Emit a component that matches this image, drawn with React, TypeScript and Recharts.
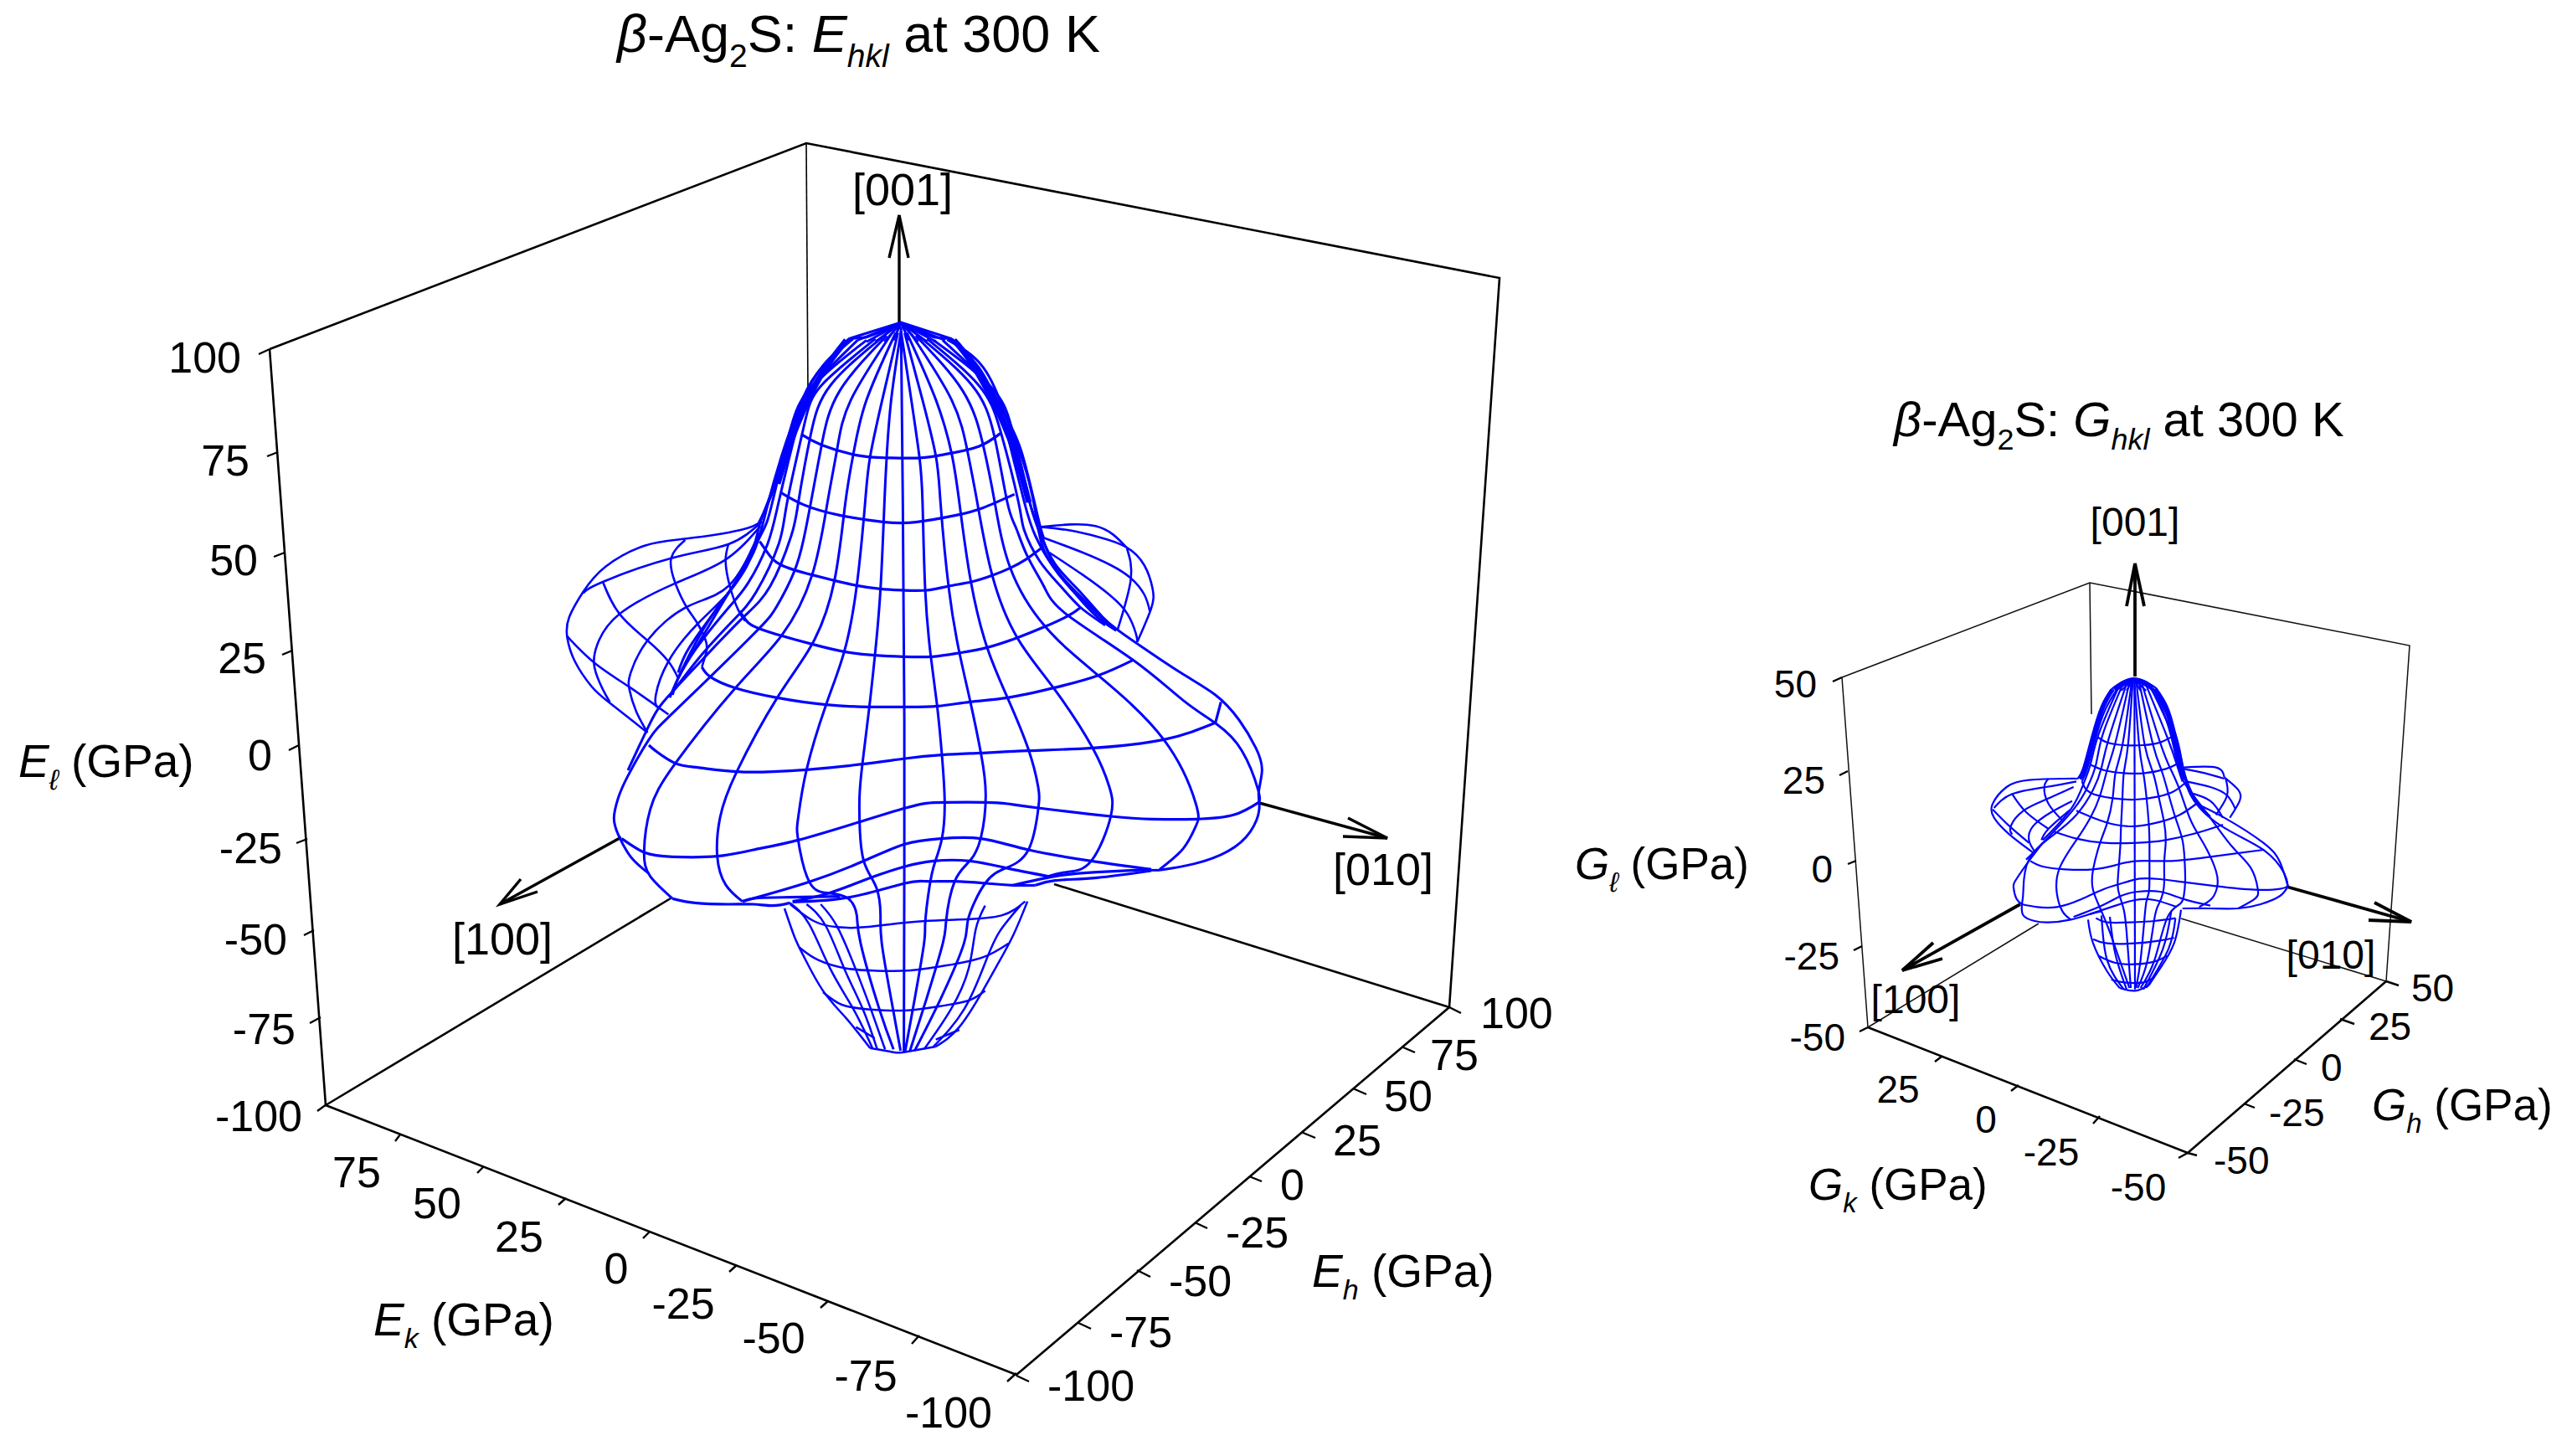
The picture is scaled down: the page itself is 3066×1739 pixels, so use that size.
import React from 'react';
import { ScatterChart, Scatter, XAxis, YAxis } from 'recharts';

type Pair = [number, number];
type Pt = { x: number; y: number };

// Readings are taken from magnified views of the picture; each view has its own origin and scale.
const view = (ox: number, oy: number, sx: number, sy: number) => (pts: Pair[]): Pt[] =>
  pts.map(([a, b]) => ({ x: ox + a / sx, y: oy + b / sy }));
const T = view(660, 360, 1.867, 2.8);
const A = view(670, 600, 3, 3);
const B = view(1060, 600, 3, 3);
const Lo = view(680, 760, 1.782, 3);
const S = view(2340, 780, 3, 3);
const P = view(0, 0, 1, 1);

// ---------- E surface: meridians ----------
const eM0 = [...T([[777, 85], [781, 672]]), ...Lo([[713, 300], [713, 800], [712, 1490]])];
const eMR = [
  [...T([[777, 100], [800, 330], [818, 520], [825, 672]]), ...B([[135, 310], [155, 550], [178, 730], [195, 905], [205, 1075], [195, 1205], [170, 1290], [150, 1380], [135, 1510]]), ...Lo([[755, 1100], [735, 1300], [715, 1485]])],
  [...T([[785, 105], [825, 330], [855, 520], [865, 672]]), ...B([[220, 310], [258, 540], [297, 715], [335, 900], [352, 1050], [335, 1200], [295, 1285], [240, 1360], [210, 1500]]), ...Lo([[795, 1100], [760, 1300], [725, 1485]])],
  [...T([[790, 105], [855, 330], [890, 510], [907, 672]]), ...B([[298, 280], [357, 520], [430, 700], [505, 885], [540, 1020], [540, 1100], [505, 1245], [425, 1310], [350, 1365], [290, 1490]]), ...Lo([[840, 1100], [790, 1300], [735, 1485]])],
  [...T([[800, 110], [890, 330], [925, 500], [947, 672]]), ...B([[375, 260], [465, 485], [595, 665], [735, 880], [795, 1020], [800, 1125], [730, 1285], [640, 1325], [560, 1345]])],
  [...T([[810, 115], [915, 300], [960, 480], [986, 672]]), ...B([[440, 235], [565, 445], [755, 620], [990, 850], [1105, 1080], [1105, 1160], [1060, 1240], [975, 1315]])],
  [...T([[820, 120], [935, 280], [985, 450], [1014, 672]]), ...B([[460, 90], [500, 190], [560, 300], [640, 400], [880, 565], [1060, 710], [1180, 795], [1270, 890], [1328, 1030], [1330, 1075]])],
  [...T([[835, 125], [950, 280], [1000, 440], [1039, 672]]), ...B([[490, 100], [545, 210], [620, 300], [690, 375], [780, 440]])],
  [...T([[850, 130], [965, 270], [1010, 420], [1052, 672]]), ...B([[530, 120], [580, 210], [650, 300], [740, 400], [820, 460]])],
  [...T([[870, 130], [980, 290], [1025, 430], [1064, 672]]), ...B([[550, 120], [600, 220], [680, 310], [770, 410], [815, 450]])],
  [...T([[880, 128], [960, 220], [1010, 380], [1048, 530], [1075, 690]]), ...B([[560, 170], [640, 290], [720, 370], [810, 450]])],
  T([[885, 125], [950, 220], [1005, 370], [1045, 500], [1082, 720], [1095, 790]]),
];
const eML = [
  [...T([[777, 100], [755, 330], [745, 520], [740, 672]]), ...A([[1145, 310], [1125, 548], [1105, 733], [1080, 938], [1070, 1050], [1070, 1145], [1085, 1285], [1130, 1380], [1145, 1480]]), ...Lo([[665, 1100], [685, 1300], [705, 1485]])],
  [...T([[770, 105], [735, 330], [708, 520], [697, 672]]), ...A([[1060, 298], [1015, 535], [950, 725], [880, 958], [850, 1130], [850, 1210], [890, 1360], [960, 1400], [1030, 1420], [1060, 1480]]), ...Lo([[620, 1100], [660, 1337], [690, 1480]])],
  [...T([[765, 105], [700, 330], [672, 500], [653, 672]]), ...A([[980, 280], [900, 508], [775, 700], [630, 965], [570, 1130], [560, 1268], [590, 1370], [650, 1430]])],
  [...T([[755, 110], [665, 330], [635, 490], [613, 672]]), ...A([[900, 260], [790, 478], [625, 665], [410, 935], [320, 1100], [298, 1250], [320, 1340], [400, 1420]])],
  [...T([[745, 115], [640, 300], [600, 480], [576, 672]]), ...A([[870, 130], [835, 250], [775, 370], [710, 452], [535, 625], [385, 770], [315, 850], [240, 980], [205, 1060], [190, 1130], [205, 1190], [250, 1270], [315, 1330]])],
  [...T([[735, 120], [620, 280], [575, 450], [548, 672]]), ...A([[825, 120], [750, 300], [650, 415], [510, 560], [380, 700], [320, 790], [240, 960]])],
  [...T([[720, 125], [600, 280], [560, 420], [523, 672]]), ...A([[780, 150], [700, 320], [620, 420], [505, 545], [400, 680]])],
  [...T([[700, 130], [590, 270], [545, 420], [504, 672]]), ...A([[740, 150], [670, 290], [590, 390], [480, 530], [420, 630]])],
  [...T([[680, 130], [575, 290], [530, 430], [490, 672]]), ...A([[720, 110], [640, 260], [560, 380], [460, 520], [420, 610]])],
  [...T([[670, 125], [590, 240], [545, 370], [510, 520], [478, 690]]), ...A([[690, 180], [610, 310], [520, 460], [430, 610], [400, 690]])],
  [...T([[665, 125], [600, 220], [555, 340], [520, 480], [485, 650], [462, 745]]), ...A([[670, 220], [580, 350], [490, 490], [415, 640], [390, 700]])],
];
const eCap = [
  T([[660, 125], [777, 70], [890, 125]]),
  T([[777, 72], [680, 130]]), T([[777, 72], [700, 135]]), T([[777, 72], [720, 135]]), T([[777, 72], [740, 135]]), T([[777, 72], [760, 130]]),
  T([[777, 72], [795, 130]]), T([[777, 72], [815, 135]]), T([[777, 72], [835, 135]]), T([[777, 72], [855, 135]]), T([[777, 72], [875, 130]]),
  T([[660, 125], [700, 120], [745, 95]]), T([[890, 125], [850, 120], [805, 95]]),
];
const eSilhouette = [
  T([[660, 125], [610, 215], [570, 310], [530, 450], [495, 620], [460, 740]]),
  [...T([[890, 125], [940, 205], [1000, 370], [1040, 520], [1064, 672]]), ...B([[545, 100], [575, 180], [620, 260], [700, 345], [790, 430], [900, 510], [1050, 610], [1175, 690], [1260, 780], [1320, 880], [1342, 960], [1330, 1040], [1332, 1100], [1300, 1180], [1220, 1250], [1100, 1295], [975, 1318]])],
  B([[975, 1318], [945, 1318]]),
];
const eHeavyEdges = [
  T([[655, 130], [612, 215], [576, 310], [536, 450], [502, 610]]),
  T([[895, 130], [936, 210], [994, 370], [1034, 520], [1062, 672]]),
];

// ---------- E surface: parallels ----------
const eParallels = [
  T([[555, 445], [600, 480], [680, 515], [745, 523], [820, 523], [880, 510], [950, 485], [1000, 440]]),
  T([[510, 640], [560, 680], [640, 715], [740, 738], [810, 738], [900, 715], [960, 690], [1030, 645]]),
  [...A([[712, 140], [740, 180], [790, 225], [900, 260], [980, 280], [1060, 298], [1145, 310], [1227, 315], [1310, 315]]), ...B([[220, 300], [300, 285], [375, 262], [440, 235], [495, 205], [550, 165]])],
  [...A([[640, 390], [670, 430], [710, 452], [790, 478], [900, 508], [1015, 535], [1125, 548], [1227, 553], [1330, 553]]), ...B([[255, 540], [357, 520], [465, 485], [565, 445], [650, 405], [690, 378]])],
  [...A([[505, 590], [535, 625], [625, 665], [775, 700], [950, 725], [1105, 733], [1230, 733], [1350, 730]]), ...B([[295, 715], [430, 700], [595, 665], [755, 620], [880, 565]])],
  [...A([[315, 870], [345, 895], [410, 935], [490, 950], [630, 965], [760, 965], [880, 958], [1080, 938], [1232, 918], [1365, 905]]), ...B([[335, 898], [505, 890], [735, 880], [990, 850], [1175, 790]])],
  B([[1175, 790], [1195, 715]]),
  [...A([[218, 1205], [300, 1255], [400, 1270], [560, 1268], [690, 1245], [850, 1210], [1070, 1145], [1235, 1095], [1310, 1078], [1375, 1075]]), ...B([[350, 1075], [430, 1080], [540, 1095], [800, 1125], [950, 1135], [1105, 1135], [1240, 1120], [1330, 1075]])],
  [...A([[650, 1430], [890, 1360], [1085, 1285], [1232, 1225], [1360, 1205]]), ...B([[335, 1205], [505, 1245], [730, 1285], [945, 1315]])],
  [...A([[830, 1430], [960, 1400], [1110, 1345], [1232, 1305], [1335, 1285]]), ...B([[295, 1285], [425, 1310], [575, 1340]])],
  [...A([[830, 1432], [1035, 1415], [1232, 1365], [1310, 1358], [1410, 1358]]), ...B([[350, 1365], [450, 1372], [530, 1372]])],
  A([[400, 1420], [480, 1435], [600, 1440], [690, 1440], [760, 1445], [820, 1435]]),
  A([[650, 1430], [700, 1418], [820, 1415], [1000, 1412]]),
  B([[530, 1372], [600, 1355], [750, 1345], [945, 1320]]),
  B([[450, 1372], [600, 1340], [750, 1325], [945, 1315]]),
];

// ---------- E surface: lobes behind the body ----------
const eBackLobes = [
  A([[715, 70], [640, 100], [450, 130], [300, 155], [160, 230], [80, 320], [30, 410], [22, 480], [50, 570], [110, 660], [170, 715], [310, 825]]),
  A([[720, 70], [600, 150], [395, 200], [150, 285], [80, 325]]),
  A([[715, 85], [590, 205], [410, 290], [210, 400], [130, 510], [120, 590], [150, 670], [175, 715]]),
  A([[710, 110], [600, 300], [450, 375], [310, 495], [250, 610], [245, 670], [270, 750], [310, 825]]),
  A([[700, 150], [620, 300], [490, 435], [385, 570], [340, 690], [345, 735]]),
  A([[445, 135], [395, 200], [410, 290], [450, 375], [490, 435], [520, 500], [520, 540], [505, 590]]),
  A([[600, 150], [590, 210], [605, 300], [635, 385], [660, 425]]),
  A([[150, 285], [210, 400], [310, 495], [385, 570], [420, 630]]),
  A([[22, 480], [120, 575], [250, 665], [385, 760]]),
  B([[550, 88], [745, 85], [855, 160]]),
  B([[550, 88], [650, 100], [760, 125], [855, 160], [920, 225], [950, 310], [945, 380], [895, 500]]),
  B([[555, 125], [700, 180], [800, 225], [870, 270], [920, 330], [940, 390]]),
  B([[580, 180], [700, 260], [800, 335], [860, 400], [890, 470], [895, 500]]),
  B([[858, 165], [872, 275], [825, 455]]),
];

// ---------- E surface: lower bulb ----------
const eBulb = [
  Lo([[458, 975], [480, 1080], [500, 1150], [540, 1270], [590, 1370], [640, 1475]]),
  Lo([[975, 950], [945, 1070], [910, 1180], [880, 1270], [830, 1400], [780, 1470]]),
  Lo([[640, 1475], [690, 1490], [712, 1490], [780, 1470]]),
  Lo([[470, 960], [520, 1020], [570, 1042], [630, 1042], [720, 1025], [830, 1015], [920, 1000], [970, 950]]),
  Lo([[490, 1115], [530, 1160], [590, 1190], [650, 1198], [720, 1198], [800, 1180], [880, 1150], [935, 1100]]),
  Lo([[540, 1275], [580, 1320], [640, 1337], [720, 1340], [790, 1325], [850, 1305], [885, 1270]]),
  Lo([[610, 1400], [650, 1440]]),
  Lo([[780, 1445], [830, 1410]]),
  Lo([[469, 955], [510, 1030], [555, 1190], [605, 1337], [645, 1475]]),
  Lo([[505, 960], [545, 1035], [585, 1190], [625, 1337], [655, 1478]]),
  Lo([[535, 960], [570, 1040], [610, 1195], [642, 1337], [672, 1480]]),
  Lo([[885, 965], [865, 1050], [850, 1190], [812, 1337], [755, 1480]]),
  Lo([[960, 965], [915, 1060], [885, 1170], [840, 1337], [775, 1470]]),
];

// ---------- E frame ----------
const eFrame = [
  P([[322, 417], [963, 171], [1791, 332], [1731, 1203], [1214, 1642], [389, 1320], [322, 417]]),
  P([[389, 1320], [801, 1073]]),
  P([[1259, 1056], [1731, 1203]]),
];
const eBackEdge = [P([[963, 171], [965, 467]])];
const eTicks = [
  [[322, 417], [309, 423]], [[332, 540], [319, 545]], [[340, 660], [327, 665]], [[349, 777], [337, 782]], [[357, 890], [345, 896]], [[367, 1002], [354, 1007]], [[375, 1111], [363, 1117]], [[383, 1215], [370, 1222]], [[390, 1319], [379, 1327]],
  [[478, 1355], [472, 1363]], [[578, 1393], [570, 1401]], [[676, 1431], [667, 1439]], [[776, 1471], [768, 1479]], [[880, 1511], [871, 1519]], [[989, 1554], [980, 1562]], [[1098, 1595], [1089, 1605]], [[1214, 1640], [1203, 1650]],
  [[1731, 1203], [1745, 1210]], [[1676, 1251], [1690, 1257]], [[1616, 1300], [1632, 1307]], [[1554, 1352], [1571, 1359]], [[1492, 1405], [1507, 1411]], [[1427, 1460], [1442, 1467]], [[1358, 1517], [1374, 1525]], [[1288, 1580], [1303, 1587]], [[1214, 1643], [1229, 1650]],
].map((s) => P(s as Pair[]));
const eArrows = [
  P([[1074, 393], [1074, 257]]), P([[1062, 308], [1074, 257], [1085, 308]]),
  P([[742, 1000], [597, 1080]]), P([[622, 1050], [597, 1080], [642, 1065]]),
  P([[1504, 959], [1657, 1001]]), P([[1610, 977], [1657, 1001], [1604, 999]]),
];

// ---------- G surface ----------
const gSurface = [
  S([[545, 130], [625, 90], [705, 125]]),
  S([[625, 92], [560, 135]]), S([[625, 92], [580, 135]]), S([[625, 92], [600, 135]]), S([[625, 92], [650, 135]]), S([[625, 92], [670, 135]]), S([[625, 92], [690, 130]]),
  S([[545, 130], [510, 190], [475, 300], [445, 410], [425, 450]]),
  S([[555, 130], [515, 200], [480, 310], [452, 410], [432, 450]]),
  S([[565, 130], [525, 200], [490, 300], [460, 410], [440, 460]]),
  S([[705, 125], [745, 190], [775, 290], [800, 410], [810, 450], [850, 540]]),
  S([[695, 128], [735, 200], [768, 300], [792, 410], [805, 455]]),
  S([[685, 125], [725, 195], [760, 300], [785, 410], [800, 460]]),
  S([[628, 95], [630, 1205]]),
  S([[495, 300], [530, 320], [590, 330], [660, 330], [720, 320], [770, 295]]),
  S([[470, 400], [520, 420], [590, 430], [665, 430], [740, 415], [785, 395]]),
  S([[440, 460], [470, 500], [550, 520], [630, 525], [710, 515], [770, 495], [810, 465]]),
  S([[420, 565], [480, 590], [560, 615], [640, 620], [720, 605], [790, 580], [850, 540]]),
  S([[340, 640], [420, 665], [520, 680], [640, 680], [740, 670], [850, 645], [945, 615]]),
  S([[255, 745], [300, 765], [380, 775], [480, 775], [560, 760], [640, 745], [760, 745], [900, 730], [1090, 705]]),
  S([[225, 900], [280, 910], [350, 910], [430, 885], [520, 845], [600, 820], [650, 808], [720, 810], [800, 820], [920, 835], [1060, 848], [1150, 845], [1178, 835]]),
  S([[410, 945], [510, 905], [580, 870], [640, 855], [720, 855], [800, 880], [900, 905]]),
  S([[470, 935], [560, 905], [630, 885], [700, 885], [780, 910]]),
  S([[225, 900], [230, 940], [270, 960], [320, 965], [400, 955], [470, 935], [510, 925]]),
  S([[1178, 835], [1150, 870], [1080, 900], [1000, 915], [900, 915], [800, 915]]),
  S([[300, 680], [250, 745], [205, 810], [195, 840], [205, 880], [225, 900]]),
  S([[850, 540], [950, 590], [1090, 680], [1150, 750], [1178, 835]]),
  S([[628, 100], [645, 330], [660, 430], [672, 525], [680, 620], [682, 680], [682, 745], [682, 810], [680, 855], [672, 885], [665, 940], [650, 1100], [634, 1200]]),
  S([[635, 105], [665, 330], [695, 430], [715, 515], [735, 610], [740, 680], [735, 745], [735, 810], [730, 860], [715, 900], [700, 950], [675, 1100], [640, 1200]]),
  S([[645, 105], [695, 330], [725, 420], [750, 505], [775, 590], [800, 670], [808, 745], [810, 815], [805, 870], [790, 900], [745, 950], [700, 1100], [650, 1200]]),
  S([[655, 110], [720, 320], [755, 410], [790, 490], [830, 600], [880, 690], [920, 780], [925, 835], [905, 880], [860, 910]]),
  S([[670, 115], [745, 300], [780, 400], [810, 470], [885, 570], [975, 690], [1045, 770], [1070, 845], [1060, 880], [1000, 915]]),
  S([[685, 120], [765, 290], [800, 400], [830, 510], [940, 620], [1090, 705], [1165, 790], [1178, 835]]),
  S([[695, 125], [775, 290], [805, 420], [850, 530], [900, 585]]),
  S([[622, 100], [605, 330], [590, 430], [585, 520], [580, 620], [578, 680], [572, 765], [568, 830], [575, 870], [590, 920], [600, 1000], [615, 1200]]),
  S([[618, 105], [585, 330], [560, 430], [550, 520], [530, 610], [505, 680], [480, 775], [480, 850], [510, 925], [540, 1000], [575, 1100], [610, 1200]]),
  S([[610, 105], [560, 320], [530, 420], [505, 510], [470, 590], [420, 670], [360, 770], [350, 860], [370, 925], [400, 955]]),
  S([[600, 110], [535, 310], [510, 410], [480, 490], [420, 580], [340, 650], [250, 740], [230, 850], [225, 900]]),
  S([[585, 115], [515, 290], [490, 400], [460, 480], [410, 560], [310, 670], [240, 740]]),
  S([[570, 125], [500, 290], [470, 400], [445, 470], [400, 560], [300, 670]]),
  S([[425, 450], [380, 450], [250, 455], [170, 480], [120, 540], [125, 590], [180, 650], [265, 715]]),
  S([[420, 460], [310, 480], [190, 505], [125, 555]]),
  S([[410, 480], [310, 525], [230, 565], [185, 620], [190, 650]]),
  S([[405, 530], [330, 570], [265, 620], [250, 670], [270, 710]]),
  S([[400, 560], [320, 630], [295, 670]]),
  S([[320, 450], [305, 480], [320, 540], [370, 600]]),
  S([[190, 505], [240, 570], [320, 630]]),
  S([[120, 560], [180, 620], [250, 680]]),
  S([[805, 410], [920, 410], [950, 445]]),
  S([[950, 445], [1000, 490], [1005, 530], [970, 590]]),
  S([[805, 415], [880, 430], [950, 450]]),
  S([[815, 460], [900, 480], [960, 510], [990, 560]]),
  S([[825, 500], [900, 530], [945, 590]]),
  S([[955, 450], [960, 510], [920, 580]]),
  S([[462, 955], [480, 1040], [530, 1140], [575, 1200]]),
  S([[795, 920], [770, 1040], [720, 1130], [680, 1190]]),
  S([[575, 1200], [630, 1210], [680, 1190]]),
  S([[490, 950], [530, 965], [610, 965], [700, 960], [775, 950]]),
  S([[480, 1025], [530, 1040], [630, 1040], [720, 1030], [770, 1020]]),
  S([[500, 1085], [560, 1110], [630, 1115], [700, 1105], [745, 1085]]),
  S([[545, 1170], [590, 1180], [660, 1180], [700, 1160]]),
  S([[510, 940], [530, 1100], [590, 1205]]),
  S([[540, 945], [560, 1080], [600, 1205]]),
  S([[760, 925], [730, 1060], [660, 1205]]),
  S([[775, 950], [750, 1060], [670, 1200]]),
];
const gHeavyEdges = [
  S([[548, 132], [515, 195], [482, 300], [452, 410], [432, 450]]),
  S([[702, 128], [740, 195], [768, 295], [793, 410], [805, 450]]),
  S([[555, 128], [625, 96], [695, 124]]),
];

// ---------- G frame ----------
const gBackFrame = [
  P([[2200, 809], [2496, 696], [2878, 771], [2850, 1172]]),
  P([[2200, 809], [2231, 1227]]),
  P([[2496, 696], [2498, 853]]),
  P([[2231, 1227], [2435, 1103]]),
  P([[2605, 1097], [2850, 1172]]),
];
const gFloorEdges = [P([[2231, 1227], [2613, 1377], [2850, 1172]])];
const gTicks = [
  [[2200, 809], [2189, 814]], [[2207, 921], [2197, 926]], [[2217, 1028], [2207, 1032]], [[2224, 1130], [2214, 1135]], [[2231, 1227], [2221, 1232]],
  [[2319, 1262], [2311, 1268]], [[2411, 1296], [2402, 1303]], [[2508, 1333], [2500, 1342]], [[2613, 1377], [2602, 1383]],
  [[2850, 1172], [2865, 1177]], [[2795, 1217], [2812, 1223]], [[2740, 1265], [2755, 1271]], [[2680, 1318], [2693, 1323]], [[2613, 1377], [2624, 1380]],
].map((s) => P(s as Pair[]));
const gArrows = [
  P([[2550, 808], [2550, 673]]), P([[2540, 724], [2550, 673], [2561, 724]]),
  P([[2413, 1080], [2272, 1159]]), P([[2309, 1126], [2272, 1159], [2320, 1145]]),
  P([[2731, 1059], [2880, 1101]]), P([[2836, 1078], [2880, 1101], [2829, 1099]]),
];

// ---------- Text ----------
const eZLabels = ['100', '75', '50', '25', '0', '-25', '-50', '-75', '-100'];
const eZAnchors: Pair[] = [[288, 445], [298, 568], [308, 687], [318, 804], [325, 920], [337, 1031], [343, 1140], [353, 1247], [361, 1351]];
const eKLabels = ['75', '50', '25', '0', '-25', '-50', '-75', '-100'];
const eKAnchors: Pair[] = [[426, 1418], [522, 1455], [620, 1495], [736, 1533], [816, 1575], [924, 1616], [1034, 1661], [1133, 1705]];
const eHLabels = ['100', '75', '50', '25', '0', '-25', '-50', '-75', '-100'];
const eHAnchors: Pair[] = [[1768, 1228], [1708, 1278], [1653, 1327], [1592, 1380], [1529, 1433], [1464, 1490], [1396, 1548], [1325, 1609], [1251, 1673]];
const gZLabels = ['50', '25', '0', '-25', '-50'];
const gZAnchors: Pair[] = [[2170, 833], [2180, 948], [2189, 1054], [2197, 1158], [2204, 1255]];
const gKLabels = ['25', '0', '-25', '-50'];
const gKAnchors: Pair[] = [[2267, 1317], [2372, 1353], [2450, 1392], [2554, 1434]];
const gHLabels = ['50', '25', '0', '-25', '-50'];
const gHAnchors: Pair[] = [[2880, 1196], [2829, 1242], [2772, 1291], [2710, 1345], [2644, 1402]];
const eDirLabels = ['[001]', '[010]', '[100]'];
const eDirAnchors: Pair[] = [[1078, 245], [1652, 1057], [600, 1140]];
const gDirLabels = ['[001]', '[010]', '[100]'];
const gDirAnchors: Pair[] = [[2550, 640], [2784, 1157], [2288, 1210]];

type Part = { t: string; i?: boolean; sub?: boolean };
const title = (sym: string): Part[] => [
  { t: 'β', i: true }, { t: '-Ag' }, { t: '2', sub: true }, { t: 'S: ' }, { t: sym, i: true }, { t: 'hkl', i: true, sub: true }, { t: ' at 300 K' },
];
const axisName = (sym: string, s: string): Part[] => [{ t: sym, i: true }, { t: s, i: true, sub: true }, { t: ' (GPa)' }];
const eTitle = title('E');
const gTitle = title('G');
const eAxisNames = [axisName('E', 'ℓ'), axisName('E', 'k'), axisName('E', 'h')];
const eAxisAnchors: Pair[] = [[22, 928], [446, 1595], [1567, 1537]];
const gAxisNames = [axisName('G', 'ℓ'), axisName('G', 'k'), axisName('G', 'h')];
const gAxisAnchors: Pair[] = [[1881, 1050], [2160, 1433], [2833, 1338]];

const W = 3066;
const H = 1739;
const FONT = '"Liberation Sans", Arial, sans-serif';
const BLUE = '#0000ff';

const zip = (labels: any[], anchors: Pair[]) => labels.map((label, i) => ({ label, x: anchors[i][0], y: anchors[i][1] }));

const textShape = (size: number, anchor: string) => (p: any) => {
  const v = p.payload.label;
  const parts: Part[] = typeof v === 'string' ? [{ t: v }] : v;
  const off = size * 0.28;
  let shift = 0;
  return (
    <text x={p.cx} y={p.cy} fontSize={size} fontFamily={FONT} fill="#000" textAnchor={anchor} style={{ whiteSpace: 'pre' }}>
      {parts.map((q, i) => {
        const target = q.sub ? off : 0;
        const dy = target - shift;
        shift = target;
        return (
          <tspan key={i} dy={dy} fontStyle={q.i ? 'italic' : 'normal'} fontSize={q.sub ? size * 0.62 : size} xmlSpace="preserve">
            {q.t}
          </tspan>
        );
      })}
    </text>
  );
};

const none = () => <g />;

const wires = (name: string, list: Pt[][], color: string, width: number, joint: string) =>
  list.map((pts, i) => (
    <Scatter
      key={`${name}${i}`}
      data={pts}
      isAnimationActive={false}
      shape={none}
      line={{ stroke: color, strokeWidth: width, fill: 'none' }}
      lineJointType={joint as any}
      legendType="none"
    />
  ));

const labels = (name: string, data: any[], size: number, anchor: string) => (
  <Scatter key={name} data={data} isAnimationActive={false} shape={textShape(size, anchor)} legendType="none" />
);

export default function App() {
  return (
    <div style={{ position: 'absolute', left: 0, top: 0, width: W, height: H, background: '#fff' }}>
      <ScatterChart width={W} height={H} margin={{ top: 0, right: 0, bottom: 0, left: 0 }}>
        <XAxis type="number" dataKey="x" domain={[0, W]} hide allowDataOverflow />
        <YAxis type="number" dataKey="y" domain={[0, H]} reversed hide allowDataOverflow />
        {wires('ef', eFrame, '#000', 2.6, 'linear')}
        {wires('eb', eBackEdge, '#000', 1.6, 'linear')}
        {wires('et', eTicks, '#000', 2.4, 'linear')}
        {wires('gf', gBackFrame, '#111', 1.5, 'linear')}
        {wires('gg', gFloorEdges, '#000', 2.6, 'linear')}
        {wires('gt', gTicks, '#000', 2.4, 'linear')}
        {wires('ea', eArrows, '#000', 3.4, 'linear')}
        {wires('ga', gArrows, '#000', 3.8, 'linear')}
        {wires('el', eBackLobes, BLUE, 2.6, 'natural')}
        {wires('er', eMR, BLUE, 3, 'natural')}
        {wires('el2', eML, BLUE, 3, 'natural')}
        {wires('e0', [eM0], BLUE, 3, 'linear')}
        {wires('ecap', eCap, BLUE, 3, 'linear')}
        {wires('es', eSilhouette, BLUE, 3, 'natural')}
        {wires('eh', eHeavyEdges, BLUE, 7, 'natural')}
        {wires('ep', eParallels, BLUE, 3.2, 'natural')}
        {wires('ec', eBulb, BLUE, 2.5, 'natural')}
        {wires('gs', gSurface, BLUE, 2.2, 'natural')}
        {wires('gh', gHeavyEdges, BLUE, 5, 'natural')}
        {labels('l1', zip(eZLabels, eZAnchors), 52, 'end')}
        {labels('l2', zip(eKLabels, eKAnchors), 52, 'middle')}
        {labels('l3', zip(eHLabels, eHAnchors), 52, 'start')}
        {labels('l4', zip(gZLabels, gZAnchors), 46, 'end')}
        {labels('l5', zip(gKLabels, gKAnchors), 46, 'middle')}
        {labels('l6', zip(gHLabels, gHAnchors), 46, 'start')}
        {labels('l7', zip(eDirLabels, eDirAnchors), 54, 'middle')}
        {labels('l8', zip(gDirLabels, gDirAnchors), 48, 'middle')}
        {labels('l9', zip([eTitle], [[737, 62]]), 63, 'start')}
        {labels('l10', zip([gTitle], [[2262, 521]]), 58, 'start')}
        {labels('l11', zip(eAxisNames, eAxisAnchors), 55, 'start')}
        {labels('l12', zip(gAxisNames, gAxisAnchors), 53, 'start')}
      </ScatterChart>
    </div>
  );
}
